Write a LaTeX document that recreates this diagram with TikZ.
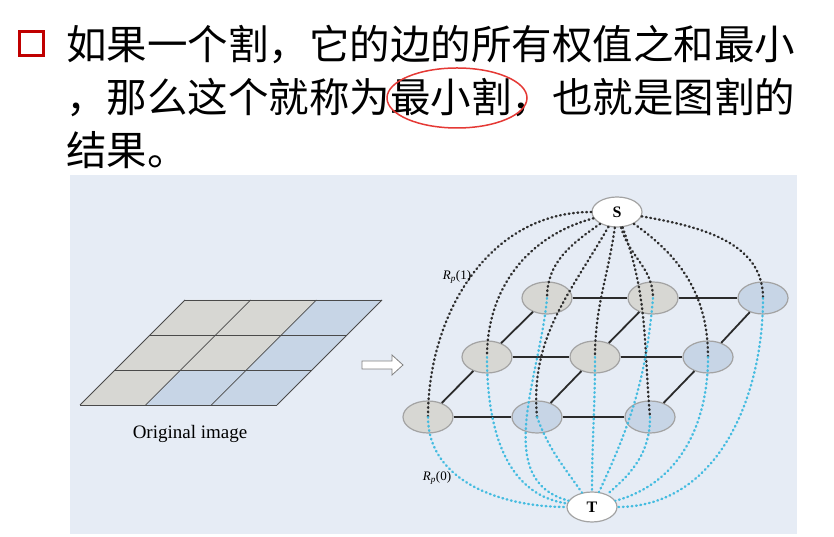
\documentclass[tikz,border=0pt]{standalone}
\usepackage{fontspec}
\setmainfont{Liberation Serif}
\newfontfamily\cjk{Noto Sans CJK SC}
\usepackage{xcolor}
\usetikzlibrary{shapes.geometric}
\definecolor{panel}{HTML}{E6ECF5}
\definecolor{cellgray}{HTML}{D7D7D3}
\definecolor{cellblue}{HTML}{C7D5E6}
\definecolor{gridline}{HTML}{4A4A4A}
\definecolor{nodeline}{HTML}{A3A3A3}
\definecolor{edgecol}{HTML}{2B2B2B}
\definecolor{sdot}{HTML}{2E2E2E}
\definecolor{tdot}{HTML}{45BCE0}
\definecolor{bulletred}{HTML}{C00000}
\definecolor{ringred}{HTML}{E53935}

\begin{document}
\begin{tikzpicture}[x=1pt,y=1pt,
  line/.style={anchor=west, inner sep=0pt, font=\cjk\fontsize{40.5}{48}\selectfont},
  px/.style={ellipse, draw=nodeline, line width=1.2pt, minimum width=50pt, minimum height=32pt, inner sep=0pt},
  st/.style={ellipse, draw=nodeline, fill=white, line width=1.2pt, minimum width=50pt, minimum height=30pt, inner sep=0pt, font=\fontsize{16}{16}\selectfont\bfseries},
  link/.style={draw=edgecol, line width=1.8pt},
  sline/.style={draw=sdot, line width=2.4pt, line cap=round, dash pattern=on 0.8pt off 3.6pt},
  tline/.style={draw=tdot, line width=2.4pt, line cap=round, dash pattern=on 0.8pt off 3.6pt}]
\useasboundingbox (0,0) rectangle (834,537);
\fill[white] (0,0) rectangle (834,537);

% heading text
\node[draw=bulletred, line width=3.5pt, minimum size=24pt, inner sep=0pt] (bullet) at (31.5,493.5) {};
\node[line] (l1) at (66,492) {如果一个割，它的边的所有权值之和最小};
\node[line] (l2) at (66,439) {，那么这个就称为最小割，也就是图割的};
\node[line] (l3) at (66,387) {结果。};
\node[ellipse, draw=ringred, line width=1.5pt, minimum width=140pt, minimum height=60pt] (ring) at (457,439) {};

% figure panel
\fill[panel] (70,3) rectangle (797,362);

% original image
\foreach \r/\c/\col in {0/0/cellgray,0/1/cellblue,0/2/cellblue,1/0/cellgray,1/1/cellgray,1/2/cellblue,2/0/cellgray,2/1/cellgray,2/2/cellblue}
  \fill[\col] (80+35*\r+65.67*\c,132+35*\r) -- ++(65.67,0) -- ++(35,35) -- ++(-65.67,0) -- cycle;
\foreach \r in {0,...,3}
  \draw[gridline, line width=0.8pt] (80+35*\r,132+35*\r) -- ++(197,0);
\foreach \c in {0,...,3}
  \draw[gridline, line width=0.8pt] (80+65.67*\c,132) -- ++(105,105);
\node[font=\fontsize{19}{19}\selectfont] (orig) at (190,103) {Original image};
\draw[gray, fill=white, line width=0.8pt] (362,176) -- (392,176) -- (392,182) -- (403,172) -- (392,162) -- (392,168) -- (362,168) -- cycle;

% graph
\foreach \n/\x/\y/\c in {B1/547/239/cellgray, B2/653/239/cellgray, B3/763/239/cellblue,
  M1/487/180/cellgray, M2/595/180/cellgray, M3/708/180/cellblue,
  F1/428/120/cellgray, F2/537/120/cellblue, F3/650/120/cellblue}
  \node[px, fill=\c] (\n) at (\x,\y) {};
\foreach \a/\b in {B1/B2,B2/B3,M1/M2,M2/M3,F1/F2,F2/F3,F1/M1,M1/B1,F2/M2,M2/B2,F3/M3,M3/B3}
  \draw[link] (\a) -- (\b);
\node[st] (S) at (617,325) {S};
\node[st] (T) at (592,30) {T};
\foreach \n/\o/\i in {F1/180/90, M1/195/90, B1/215/90, F2/240/95, M2/262/90, B2/-75/90, F3/-70/95, M3/-35/90, B3/-10/90}
  \draw[sline] (S) to[out=\o,in=\i] (\n.center);
\foreach \n/\o/\i in {F1/-90/180, M1/-90/172, B1/-95/165, F2/-70/125, M2/-90/90, B2/-95/65, F3/-90/40, M3/-90/15, B3/-90/0}
  \draw[tline] (\n.center) to[out=\o,in=\i] (T);
\node[font=\fontsize{13}{13}\selectfont] (rone) at (457,260) {\textit{R}\textsubscript{\textit{p}}(1)};
\node[font=\fontsize{13}{13}\selectfont] (rzero) at (437,59) {\textit{R}\textsubscript{\textit{p}}(0)};
\end{tikzpicture}
\end{document}
